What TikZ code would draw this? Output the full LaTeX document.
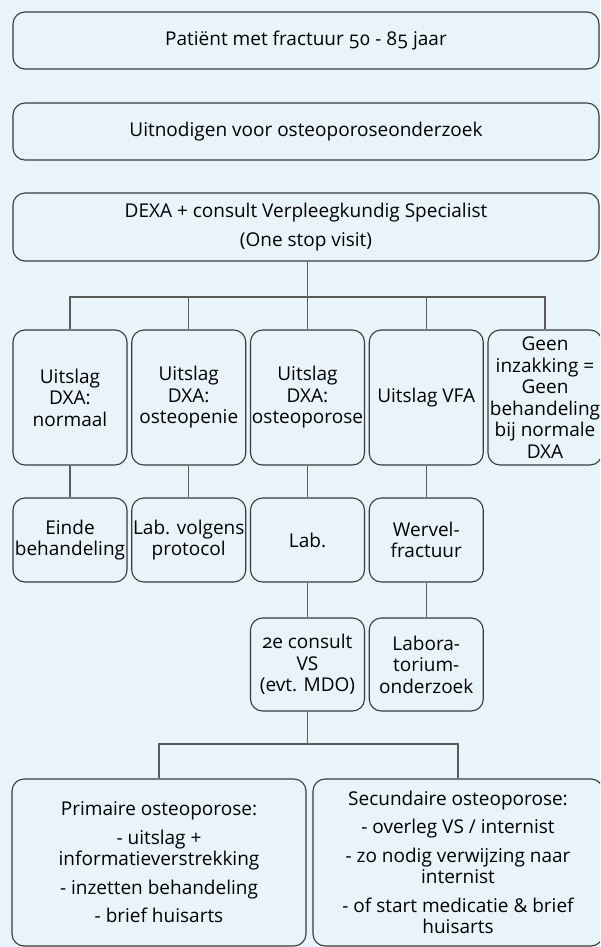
\documentclass[tikz,border=0pt]{standalone}
\usepackage{fontspec}
\setmainfont{Open Sans}[Numbers=OldStyle]
\definecolor{bgblue}{HTML}{E8F3FA}
\definecolor{boxline}{HTML}{3A3A3A}
\definecolor{connline}{HTML}{5A5A5A}
\tikzset{
  box/.style={draw=boxline, line width=1.1pt, rounded corners=12pt, fill=bgblue,
    align=center, inner sep=0pt, font=\fontsize{19}{21.5}\selectfont},
  conn/.style={draw=connline, line width=1.4pt}
}
\begin{document}
\begin{tikzpicture}[x=1pt,y=-1pt]
\useasboundingbox (0,0) rectangle (600,947);
\clip (0,0) rectangle (600,947);
\fill[bgblue] (0,0) rectangle (600,947);
% top column
\node[box, minimum width=586pt, minimum height=57pt] (t1) at (306,40.5) {Patiënt met fractuur 50 - 85 jaar};
\node[box, minimum width=586pt, minimum height=57pt] (t2) at (306,131.5) {Uitnodigen voor osteoporoseonderzoek};
\node[box, minimum width=586pt, minimum height=68pt] (t3) at (306,227) {DEXA + consult Verpleegkundig Specialist\\[7pt](One stop visit)};
% row A
\node[box, minimum width=114pt, minimum height=135pt] (a1) at (70,397.5) {Uitslag\\DXA:\\normaal};
\node[box, minimum width=114pt, minimum height=135pt] (a2) at (188.75,397.5) {Uitslag\\DXA:\\osteopenie};
\node[box, minimum width=114pt, minimum height=135pt] (a3) at (307.5,397.5) {Uitslag\\DXA:\\osteoporose};
\node[box, minimum width=114pt, minimum height=135pt] (a4) at (426.25,397.5) {Uitslag VFA};
\node[box, minimum width=114pt, minimum height=135pt] (a5) at (545,397.5) {Geen\\inzakking =\\Geen\\behandeling\\bij normale\\DXA};
% row B
\node[box, minimum width=114pt, minimum height=84pt] (b1) at (70,540) {Einde\\behandeling};
\node[box, minimum width=114pt, minimum height=84pt] (b2) at (188.75,540) {Lab. volgens\\protocol};
\node[box, minimum width=114pt, minimum height=84pt] (b3) at (307.5,540) {Lab.};
\node[box, minimum width=114pt, minimum height=84pt] (b4) at (426.25,540) {Wervel-\\fractuur};
% row C
\node[box, minimum width=114pt, minimum height=93pt] (c3) at (307.5,664.5) {2e consult\\VS\\(evt. MDO)};
\node[box, minimum width=114pt, minimum height=93pt] (c4) at (426.25,664.5) {Labora-\\torium-\\onderzoek};
% bottom
\node[box, minimum width=294pt, minimum height=167pt] (d1) at (159,862.5) {Primaire osteoporose:\\[7pt]- uitslag +\\informatieverstrekking\\[7pt]- inzetten behandeling\\[7pt]- brief huisarts};
\node[box, minimum width=290pt, minimum height=167pt] (d2) at (458,862.5) {Secundaire osteoporose:\\[7pt]- overleg VS / internist\\[7pt]- zo nodig verwijzing naar\\internist\\[7pt]- of start medicatie \& brief\\huisarts};
% connectors
\coordinate (busA) at (0,297);
\coordinate (busD) at (0,744);
\draw[conn] (t3.south -| a3.north) -- (a3.north |- busA);
\draw[conn] (a1.north) |- (a5.north |- busA) -- (a5.north);
\draw[conn] (a2.north) -- (a2.north |- busA);
\draw[conn] (a3.north) -- (a3.north |- busA);
\draw[conn] (a4.north) -- (a4.north |- busA);
\draw[conn] (a1.south) -- (b1.north);
\draw[conn] (a2.south) -- (b2.north);
\draw[conn] (a3.south) -- (b3.north);
\draw[conn] (a4.south) -- (b4.north);
\draw[conn] (b3.south) -- (c3.north);
\draw[conn] (b4.south) -- (c4.north);
\draw[conn] (c3.south) -- (c3.south |- busD);
\draw[conn] (d1.north) |- (d2.north |- busD) -- (d2.north);
\end{tikzpicture}
\end{document}
